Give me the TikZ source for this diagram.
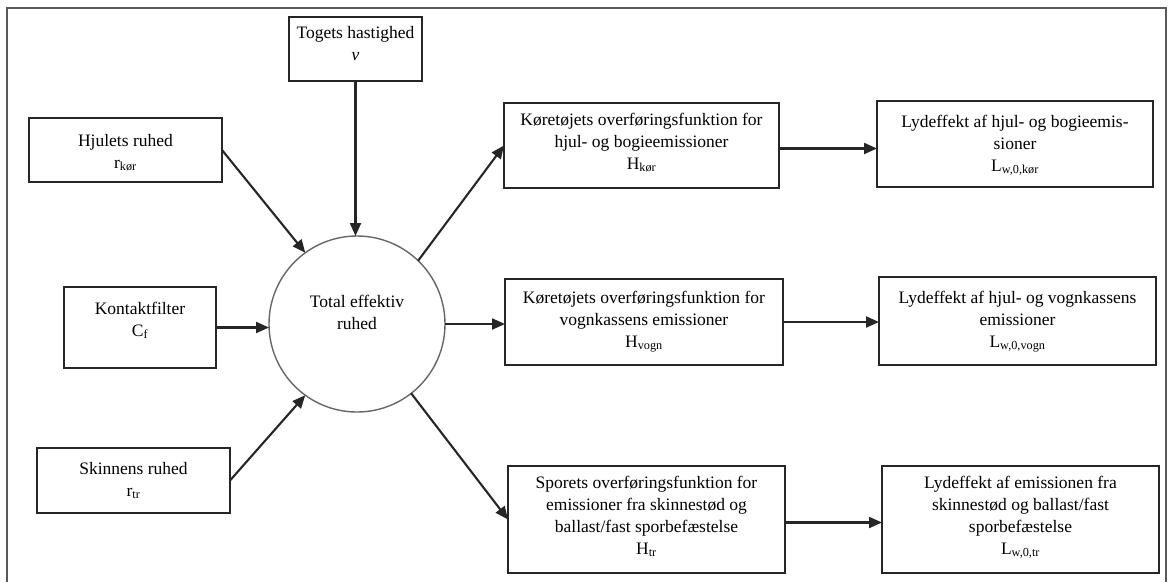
\documentclass[tikz,border=0pt]{standalone}
\usepackage{fontspec}
\setmainfont{Liberation Serif}
\usetikzlibrary{arrows.meta}
\newcommand\bxt[4]{\parbox[c][#2pt][t]{#1pt}{\centering\vspace*{#3pt}\strut #4\par}}
\tikzset{
  bx/.style={draw=black!85, rectangle, inner sep=0pt, outer sep=0pt, line width=2.1pt,
    font=\fontsize{17.5}{22}\selectfont},
  rnd/.style={draw=black!60, circle, inner sep=0pt, outer sep=0pt, line width=1.4pt, minimum size=176pt},
  txt/.style={align=center, inner sep=0pt, font=\fontsize{17.5}{22}\selectfont},
  arr/.style={draw=black!85, line width=2.1pt, -{Triangle[length=13pt,width=11pt]}},
  frm/.style={draw=black!65, line width=1.6pt}
}
\begin{document}
\begin{tikzpicture}[x=1pt,y=-1pt]
\useasboundingbox (0,0) rectangle (1168,582);
\coordinate (f1) at (7,582);
\coordinate (f2) at (7,8);
\coordinate (f3) at (1166,8);
\coordinate (f4) at (1166,582);
\draw[frm] (f1) -- (f2) -- (f3) -- (f4);

\node[bx] (tog) at (355.5,49) {\bxt{133}{64}{5.6}{Togets hastighed\\\textit{v}}};
\node[bx] (hjul) at (125.5,150) {\bxt{193}{64}{12.6}{Hjulets ruhed\\r\textsubscript{kør}}};
\node[bx] (kont) at (140,327.5) {\bxt{152}{81}{11.6}{Kontaktfilter\\C\textsubscript{f}}};
\node[bx] (skin) at (133.5,480.5) {\bxt{193}{65}{10.6}{Skinnens ruhed\\r\textsubscript{tr}}};

\node[rnd] (circ) at (357,324) {};
\node[txt] (ctext) at (357,312) {Total effektiv\\ruhed};

\node[bx] (kor) at (641.5,145.5) {\bxt{275}{85}{6.6}{Køretøjets overføringsfunktion for\\hjul- og bogieemissioner\\H\textsubscript{kør}}};
\node[bx] (vogn) at (644,322) {\bxt{278}{86}{8.6}{Køretøjets overføringsfunktion for\\vognkassens emissioner\\H\textsubscript{vogn}}};
\node[bx] (tr) at (646.5,519.5) {\bxt{277}{107}{6.6}{Sporets overføringsfunktion for\\emissioner fra skinnestød og\\ballast/fast sporbefæstelse\\H\textsubscript{tr}}};

\node[bx] (lkor) at (1015,144) {\bxt{276}{86}{10.6}{Lydeffekt af hjul- og bogieemis-\\sioner\\L\textsubscript{w,0,kør}}};
\node[bx] (lvogn) at (1017.5,321) {\bxt{277}{88}{10.6}{Lydeffekt af hjul- og vognkassens\\emissioner\\L\textsubscript{w,0,vogn}}};
\node[bx] (ltr) at (1020.5,519.5) {\bxt{277}{107}{6.6}{Lydeffekt af emissionen fra\\skinnestød og ballast/fast\\sporbefæstelse\\L\textsubscript{w,0,tr}}};

\draw[arr] (tog.south) -- (tog.south |- circ.north);
\draw[arr] (hjul.east) -- (circ.126);
\draw[arr] (kont.east) -- (kont.east -| circ.west);
\draw[arr] (skin.east) -- (circ.234);
\draw[arr] (circ.46) -- (kor.west);
\draw[arr] (circ.east) -- (circ.east -| vogn.west);
\draw[arr] (circ.-52) -- (tr.west);
\draw[arr] ([yshift=-3pt]kor.east) -- ([yshift=-3pt]kor.east -| lkor.west);
\draw[arr] (vogn.east) -- (vogn.east -| lvogn.west);
\draw[arr] ([yshift=-3pt]tr.east) -- ([yshift=-3pt]tr.east -| ltr.west);
\end{tikzpicture}
\end{document}
